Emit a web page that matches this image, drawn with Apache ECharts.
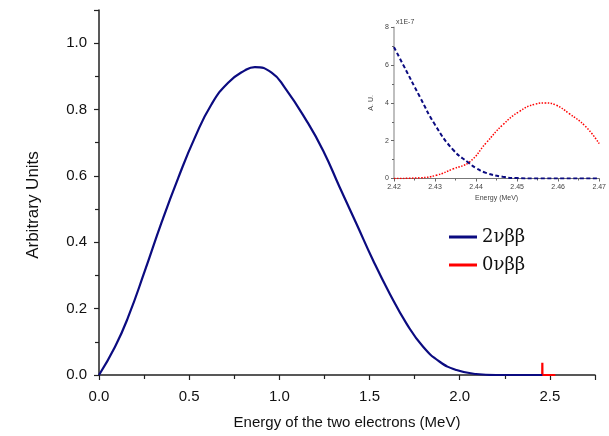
<!DOCTYPE html>
<html>
<head>
<meta charset="utf-8">
<script src="https://cdn.jsdelivr.net/npm/echarts@6/dist/echarts.min.js"></script>
<style>
  html, body { margin: 0; padding: 0; background: #fff; }
  #chart { width: 609px; height: 436px; }
</style>
</head>
<body>
<div id="chart"></div>
<script>
// Two-neutrino double-beta spectrum (summed electron energy), normalised
const spectrum2v = [
  [0, 0], [0.089, 0.085], [0.162, 0.175], [0.255, 0.315], [0.347, 0.46],
  [0.44, 0.595], [0.532, 0.716], [0.624, 0.816], [0.716, 0.881], [0.809, 0.918],
  [0.864, 0.928], [0.957, 0.911], [1.03, 0.866], [1.151, 0.766], [1.243, 0.676],
  [1.335, 0.565], [1.428, 0.455], [1.52, 0.345], [1.612, 0.245], [1.705, 0.155],
  [1.797, 0.085], [1.889, 0.04], [1.982, 0.015], [2.09, 0.003], [2.2, 0], [2.458, 0]
];
// Neutrinoless line at the Q-value
const spectrum0v = [[2.44, 0], [2.4575, 0], [2.458, 0.037], [2.4585, 0], [2.53, 0]];

// Close-up around the Q-value (units of 1E-7)
const zoom2v = [
  [2.42, 6.95], [2.4223, 5.99], [2.4263, 4.32], [2.43, 2.84], [2.4344, 1.52],
  [2.4384, 0.8], [2.44, 0.55], [2.4424, 0.30], [2.4465, 0.09], [2.45, 0.02],
  [2.455, 0], [2.47, 0]
];
const zoom0v = [
  [2.42, 0], [2.4263, 0.035], [2.4303, 0.17], [2.4344, 0.51], [2.4384, 0.88],
  [2.4424, 1.87], [2.4465, 2.84], [2.4505, 3.54], [2.4545, 3.94], [2.4569, 4.0],
  [2.4594, 3.89], [2.4626, 3.45], [2.4667, 2.75], [2.47, 1.84]
];

const seriesNames = ['2νββ', '0νββ'];
const mainTitles = { x: 'Energy of the two electrons (MeV)', y: 'Arbitrary Units' };
const insetTitles = { x: 'Energy (MeV)', y: 'A. U.', scale: 'x1E-7' };

const NAVY = '#0b0b80';
const RED = '#ff0000';
const SANS = 'Liberation Sans, Arial, sans-serif';

const chart = echarts.init(document.getElementById('chart'), null, { renderer: 'canvas' });

const mainAxisLine = { show: true, lineStyle: { color: '#222', width: 1.5 } };
const insetAxisLine = { show: true, lineStyle: { color: '#aaa', width: 1.5 } };

chart.setOption({
  animation: false,
  backgroundColor: '#fff',
  grid: [
    { left: 99, right: 14, top: 10, bottom: 61 },
    { left: 394, right: 8, top: 27.3, bottom: 257.5 }
  ],
  xAxis: [
    {
      gridIndex: 0, type: 'value', min: 0, max: 2.75, interval: 0.5,
      axisLine: mainAxisLine,
      axisTick: { show: true, length: 5, lineStyle: { color: '#222', width: 1.2 } },
      minorTick: { show: true, splitNumber: 2, length: 4, lineStyle: { color: '#222', width: 1.2 } },
      splitLine: { show: false },
      axisLabel: { margin: 14, fontSize: 15, fontFamily: SANS, color: '#111', showMaxLabel: false,
        formatter: v => v.toFixed(1) },
      name: mainTitles.x, nameLocation: 'middle', nameGap: 40,
      nameTextStyle: { fontSize: 15, fontFamily: SANS, color: '#111' }
    },
    {
      gridIndex: 1, type: 'value', min: 2.42, max: 2.47, interval: 0.01,
      axisLine: { show: true, lineStyle: { color: '#777', width: 1.2 } },
      axisTick: { show: true, length: 3, lineStyle: { color: '#666' } },
      minorTick: { show: true, splitNumber: 2, length: 2, lineStyle: { color: '#666' } },
      splitLine: { show: false },
      axisLabel: { margin: 5, fontSize: 7, fontFamily: SANS, color: '#444',
        formatter: v => v.toFixed(2) },
      name: insetTitles.x, nameLocation: 'middle', nameGap: 16,
      nameTextStyle: { fontSize: 7, fontFamily: SANS, color: '#444' }
    }
  ],
  yAxis: [
    {
      gridIndex: 0, type: 'value', min: 0, max: 1.1, interval: 0.2,
      axisLine: mainAxisLine,
      axisTick: { show: true, length: 5, lineStyle: { color: '#222', width: 1.2 } },
      minorTick: { show: true, splitNumber: 2, length: 4, lineStyle: { color: '#222', width: 1.2 } },
      splitLine: { show: false },
      axisLabel: { margin: 12, fontSize: 15, fontFamily: SANS, color: '#111', showMaxLabel: false,
        formatter: v => v.toFixed(1) }
    },
    {
      gridIndex: 1, type: 'value', min: 0, max: 8, interval: 2,
      axisLine: insetAxisLine,
      axisTick: { show: true, length: 3, lineStyle: { color: '#666' } },
      minorTick: { show: true, splitNumber: 2, length: 2, lineStyle: { color: '#666' } },
      splitLine: { show: false },
      axisLabel: { margin: 5, fontSize: 7, fontFamily: SANS, color: '#444' },
      name: insetTitles.y, nameLocation: 'middle', nameGap: 19,
      nameTextStyle: { fontSize: 7, fontFamily: SANS, color: '#444' }
    }
  ],
  legend: {
    data: [{ name: seriesNames[0], icon: 'rect' }, { name: seriesNames[1], icon: 'rect' }],
    orient: 'vertical', left: 444, top: 221, itemWidth: 28, itemHeight: 3, itemGap: 6,
    selectedMode: false,
    textStyle: { fontSize: 18, lineHeight: 22, fontFamily: 'DejaVu Serif, Liberation Serif, serif', color: '#111' }
  },
  graphic: [
    {
      type: 'text', x: 33, y: 205, rotation: Math.PI / 2,
      style: { text: mainTitles.y, fontSize: 17, fontFamily: SANS, fill: '#111',
        align: 'center', verticalAlign: 'middle' }
    },
    {
      type: 'text', x: 396, y: 22.5,
      style: { text: insetTitles.scale, fontSize: 7, fontFamily: SANS, fill: '#444',
        align: 'left', verticalAlign: 'middle' }
    }
  ],
  series: [
    {
      name: seriesNames[1], type: 'line', xAxisIndex: 0, yAxisIndex: 0,
      data: spectrum0v, showSymbol: false, symbol: 'none',
      lineStyle: { color: RED, width: 2.2 }, itemStyle: { color: RED }
    },
    {
      name: seriesNames[0], type: 'line', xAxisIndex: 0, yAxisIndex: 0,
      data: spectrum2v, smooth: 0.5, showSymbol: false, symbol: 'none',
      lineStyle: { color: NAVY, width: 2.2 }, itemStyle: { color: NAVY }
    },
    {
      name: '0νββ inset', type: 'line', xAxisIndex: 1, yAxisIndex: 1,
      data: zoom0v, smooth: 0.5, showSymbol: false, symbol: 'none',
      lineStyle: { color: RED, width: 1.5, type: [1.5, 1.5] }
    },
    {
      name: '2νββ inset', type: 'line', xAxisIndex: 1, yAxisIndex: 1,
      data: zoom2v, smooth: 0.5, showSymbol: false, symbol: 'none',
      lineStyle: { color: NAVY, width: 2, type: [4, 2.5] }
    }
  ]
});
</script>
</body>
</html>
